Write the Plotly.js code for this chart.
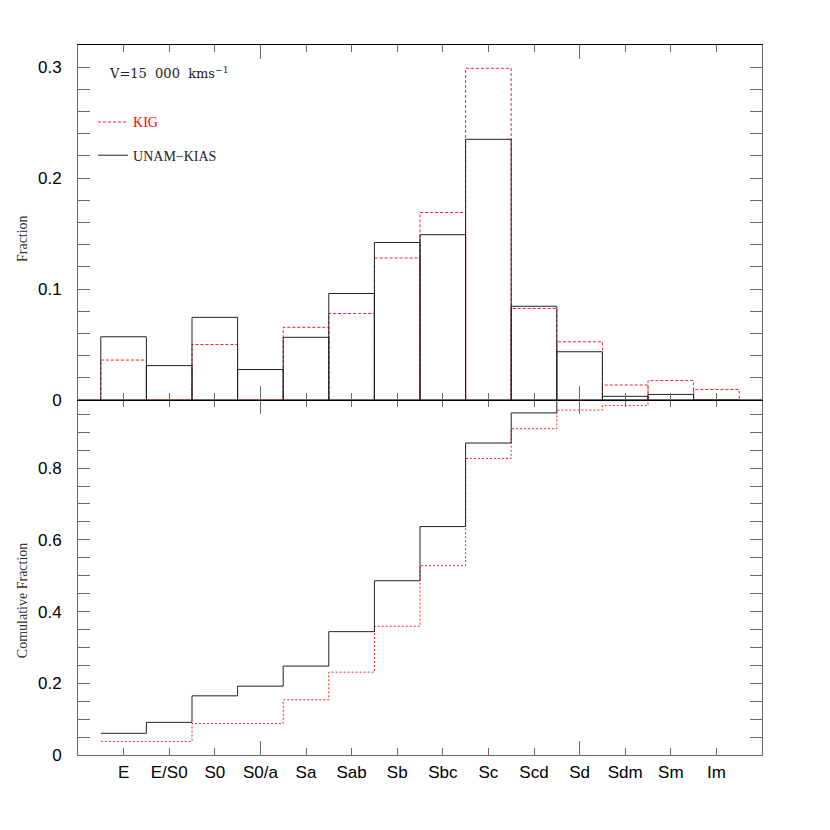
<!DOCTYPE html>
<html>
<head>
<meta charset="utf-8">
<script src="https://cdn.plot.ly/plotly-3.0.1.min.js"></script>
<style>
  html, body { margin: 0; padding: 0; background: #fff; }
  #chart { width: 830px; height: 830px; }
</style>
</head>
<body>
<div id="chart"></div>
<script>
// morphological types along the x axis
const categories = ["E", "E/S0", "S0", "S0/a", "Sa", "Sab", "Sb", "Sbc", "Sc", "Scd", "Sd", "Sdm", "Sm", "Im"];

// fraction per type (top panel)
const kigFrac  = [0.036, 0.000, 0.050, 0.000, 0.0655, 0.078, 0.128, 0.169, 0.299, 0.0825, 0.0525, 0.0135, 0.0175, 0.0095];
const unamFrac = [0.057, 0.031, 0.0745, 0.0275, 0.0565, 0.096, 0.142, 0.149, 0.235, 0.0845, 0.0435, 0.0033, 0.005, 0.000];

// cumulative fraction (bottom panel)
const kigCum  = [0.038, 0.038, 0.0875, 0.0875, 0.154, 0.231, 0.359, 0.528, 0.827, 0.910, 0.962, 0.975, 0.992, 1.000];
const unamCum = [0.0606, 0.091, 0.165, 0.192, 0.248, 0.344, 0.486, 0.637, 0.870, 0.954, 0.998, 1.000, 1.000, 1.000];

const idx = categories.map((_, i) => i);
const bigTicks = [3, 10];

// ------------------------------
// Helpers
// ------------------------------

// open-bar histogram outline, one box per bin
function outline(vals) {
  const xs = [], ys = [];
  vals.forEach((v, i) => {
    xs.push(i - 0.5, i - 0.5, i + 0.5, i + 0.5);
    ys.push(0, v, v, 0);
  });
  return { xs, ys };
}

// step line over bin edges
function steps(vals) {
  const xs = vals.map((_, i) => i - 0.5).concat([vals.length - 0.5]);
  const ys = vals.concat([vals[vals.length - 1]]);
  return { xs, ys };
}

const kigBox = outline(kigFrac);
const unamBox = outline(unamFrac);
const kigStep = steps(kigCum);
const unamStep = steps(unamCum);

const frame = "#6a6a6a";
const tickFont = { family: "Liberation Sans, Arial, sans-serif", size: 17, color: "#000" };
const serif = "Liberation Serif, DejaVu Serif, serif";
const nb = "\u00a0";

const traces = [
  {
    x: kigBox.xs, y: kigBox.ys, xaxis: "x2", yaxis: "y2",
    type: "scatter", mode: "lines",
    name: '<span style="color:#ff0000">KIG</span>',
    legendgroup: "a",
    line: { color: "#ff2020", width: 1, dash: "3px,2px" },
    hoverinfo: "skip",
  },
  {
    x: unamBox.xs, y: unamBox.ys, xaxis: "x2", yaxis: "y2",
    type: "scatter", mode: "lines",
    name: "UNAM\u2212KIAS",
    legendgroup: "b",
    line: { color: "#222", width: 1 },
    hoverinfo: "skip",
  },
  {
    x: kigStep.xs, y: kigStep.ys, xaxis: "x", yaxis: "y",
    type: "scatter", mode: "lines",
    line: { color: "#ff2020", width: 1, dash: "2px,2px", shape: "hv" },
    showlegend: false, hoverinfo: "skip",
  },
  {
    x: unamStep.xs, y: unamStep.ys, xaxis: "x", yaxis: "y",
    type: "scatter", mode: "lines",
    line: { color: "#222", width: 1, shape: "hv" },
    showlegend: false, hoverinfo: "skip",
  },
  // empty traces so the long-tick overlay axes get their subplots
  { x: [], y: [], xaxis: "x3", yaxis: "y", type: "scatter", mode: "lines", showlegend: false, hoverinfo: "skip" },
  { x: [], y: [], xaxis: "x4", yaxis: "y2", type: "scatter", mode: "lines", showlegend: false, hoverinfo: "skip" },
];

const xBase = {
  range: [-1, 14],
  tickmode: "array",
  tickvals: idx,
  ticks: "inside",
  ticklen: 7,
  tickcolor: frame,
  tickwidth: 1,
  showline: true,
  linecolor: frame,
  linewidth: 1,
  mirror: "allticks",
  showgrid: false,
  zeroline: false,
};

const xBig = {
  range: [-1, 14],
  tickmode: "array",
  tickvals: bigTicks,
  ticks: "inside",
  ticklen: 14,
  tickcolor: frame,
  tickwidth: 1,
  showticklabels: false,
  showgrid: false,
  zeroline: false,
  mirror: "allticks",
};

const layout = {
  width: 830,
  height: 830,
  margin: { l: 78, r: 68, t: 45, b: 75 },
  paper_bgcolor: "#fff",
  plot_bgcolor: "#fff",
  showlegend: true,
  legend: {
    x: 0.022, y: 0.9135, xanchor: "left", yanchor: "top",
    bgcolor: "rgba(0,0,0,0)",
    font: { family: serif, size: 14, color: "#222" },
    tracegroupgap: 12,
    traceorder: "grouped",
    itemwidth: 30,
  },
  xaxis: Object.assign({}, xBase, {
    anchor: "y",
    ticktext: categories,
    tickfont: tickFont,
    ticklabelstandoff: 2,
  }),
  xaxis2: Object.assign({}, xBase, {
    anchor: "y2",
    showticklabels: false,
  }),
  xaxis3: Object.assign({}, xBig, { overlaying: "x", anchor: "y" }),
  xaxis4: Object.assign({}, xBig, {
    overlaying: "x2", anchor: "y2",
    showline: true, linecolor: "#000", linewidth: 1.2, mirror: "allticks",
  }),
  yaxis: {
    domain: [0, 0.5],
    anchor: "x",
    range: [0, 0.99],
    dtick: 0.2,
    tick0: 0,
    ticks: "inside",
    ticklen: 12,
    tickcolor: frame,
    minor: { tickmode: "linear", tick0: 0, dtick: 0.05, ticks: "inside", ticklen: 6, tickcolor: frame },
    showline: true,
    linecolor: frame,
    mirror: "allticks",
    showgrid: false,
    zeroline: false,
    tickfont: tickFont,
    ticklabelstandoff: 12,
  },
  yaxis2: {
    domain: [0.5, 1],
    anchor: "x2",
    range: [0, 0.32],
    dtick: 0.1,
    tick0: 0,
    ticks: "inside",
    ticklen: 12,
    tickcolor: frame,
    minor: { tickmode: "linear", tick0: 0, dtick: 0.02, ticks: "inside", ticklen: 6, tickcolor: frame },
    showline: true,
    linecolor: frame,
    mirror: "allticks",
    showgrid: false,
    zeroline: false,
    tickfont: tickFont,
    ticklabelstandoff: 12,
  },
  annotations: [
    {
      text: "V=15" + nb + nb + "000" + nb + nb + "kms<sup>\u22121</sup>",
      xref: "paper", yref: "paper", x: 0.043, y: 0.961,
      xanchor: "left", yanchor: "middle", showarrow: false,
      font: { family: "DejaVu Serif, serif", size: 13, color: "#222" },
    },
    {
      text: "Fraction",
      xref: "paper", yref: "paper", x: -0.082, y: 0.728,
      xanchor: "center", yanchor: "middle", textangle: -90, showarrow: false,
      font: { family: serif, size: 14, color: "#333" },
    },
    {
      text: "Comulative Fraction",
      xref: "paper", yref: "paper", x: -0.082, y: 0.218,
      xanchor: "center", yanchor: "middle", textangle: -90, showarrow: false,
      font: { family: serif, size: 14, color: "#333" },
    },
  ],
};

Plotly.newPlot("chart", traces, layout, { displayModeBar: false, staticPlot: true });
</script>
</body>
</html>
